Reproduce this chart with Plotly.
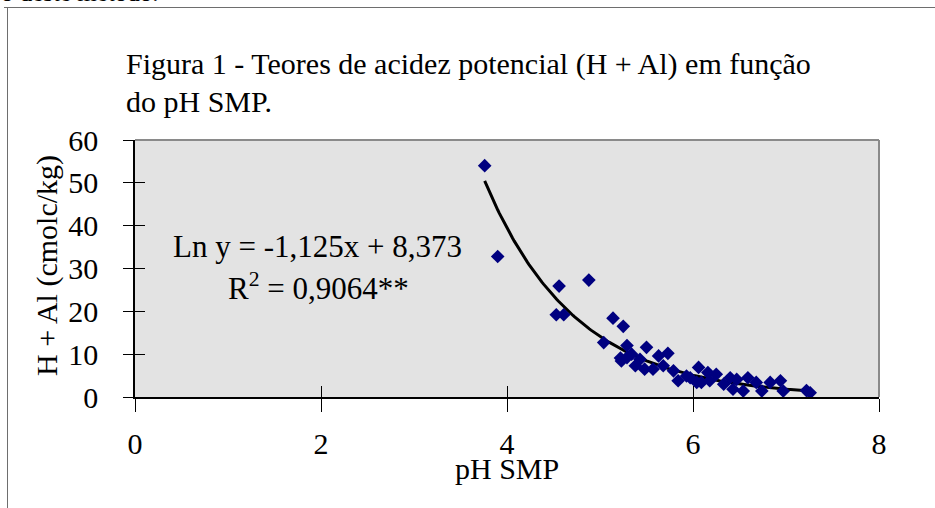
import numpy as np
import plotly.graph_objects as go

# ---- data ----
ph_smp = [3.76, 3.90, 4.53, 4.56, 4.61, 4.88, 5.04, 5.14, 5.25, 5.22, 5.23, 5.29, 5.29,
          5.34, 5.38, 5.43, 5.48, 5.50, 5.57, 5.63, 5.68, 5.73, 5.79, 5.84, 5.93,
          5.97, 6.04, 6.06, 6.09, 6.16, 6.18, 6.25, 6.33, 6.40, 6.43, 6.47, 6.54,
          6.59, 6.68, 6.74, 6.83, 6.94, 6.97, 7.22, 7.26]
h_al = [54.0, 32.8, 19.2, 25.9, 19.2, 27.3, 12.7, 18.4, 16.5, 9.1, 8.4, 12.0, 9.2,
        10.0, 7.3, 8.8, 6.5, 11.6, 6.5, 9.6, 7.3, 10.2, 6.1, 3.8, 4.9,
        4.5, 3.4, 6.9, 3.4, 5.7, 3.8, 5.3, 3.0, 4.5, 1.8, 4.1, 1.4,
        4.5, 3.4, 1.4, 3.4, 3.8, 1.4, 1.5, 1.0]

x_ticks = [0, 2, 4, 6, 8]
y_ticks = [0, 10, 20, 30, 40, 50, 60]

title_lines = ["Figura 1 - Teores de acidez potencial (H + Al) em função", "do pH SMP."]
eq_text = "Ln y = -1,125x + 8,373"
r2_text = "R<sup>2</sup> = 0,9064**"
x_title = "pH SMP"
y_title = "H + Al (cmolc/kg)"
top_cut_text = "o deste método."

# exponential trendline fitted to the data (ln y linear in x)
b, a = np.polyfit(ph_smp, np.log(h_al), 1)
xf = np.linspace(min(ph_smp), max(ph_smp), 200)
yf = np.exp(a + b * xf)

FONT = "Liberation Serif, Times New Roman, serif"

fig = go.Figure()
fig.add_trace(go.Scatter(x=xf, y=yf, mode="lines",
                         line=dict(color="black", width=3), hoverinfo="skip",
                         showlegend=False))
fig.add_trace(go.Scatter(x=ph_smp, y=h_al, mode="markers",
                         marker=dict(symbol="diamond", size=10.5, color="#000080"),
                         showlegend=False))
# invisible trace on overlay axes (for inside tick marks)
fig.add_trace(go.Scatter(x=[1], y=[30], xaxis="x2", yaxis="y2", mode="markers",
                         marker=dict(opacity=0, size=1), hoverinfo="skip", showlegend=False))

L, R, T, B = 135, 56, 140, 111
W, H = 935, 508
pw, ph = W - L - R, H - T - B

def px_x(p):
    return (p - L) / pw

def px_y(p):
    return (H - B - p) / ph

fig.update_layout(
    width=W, height=H,
    margin=dict(l=L, r=R, t=T, b=B, autoexpand=False),
    paper_bgcolor="white",
    plot_bgcolor="#e3e3e3",
    font=dict(family=FONT, color="black", size=30),
    xaxis=dict(range=[0, 8], tickvals=x_ticks, showgrid=False, zeroline=False,
               showline=True, linecolor="black", linewidth=1.5, automargin=False,
               ticks="outside", ticklen=13, tickcolor="black", tickwidth=1,
               tickfont=dict(size=30), ticklabelstandoff=6),
    yaxis=dict(range=[0, 60], tickvals=y_ticks, showgrid=False, zeroline=False,
               showline=True, linecolor="black", linewidth=1.5, automargin=False,
               ticks="outside", ticklen=10, tickcolor="black", tickwidth=1,
               tickfont=dict(size=30), ticklabelstandoff=19),
    xaxis2=dict(range=[0, 8], tickvals=x_ticks, overlaying="x", anchor="y2",
                showgrid=False, zeroline=False, showline=False, automargin=False,
                ticks="inside", ticklen=11, tickcolor="black", tickwidth=1,
                showticklabels=False),
    yaxis2=dict(range=[0, 60], tickvals=y_ticks, overlaying="y", anchor="x2",
                showgrid=False, zeroline=False, showline=False, automargin=False,
                ticks="inside", ticklen=10, tickcolor="black", tickwidth=1,
                showticklabels=False),
)

shapes = [
    # plot area top/right border
    dict(type="line", xref="paper", yref="paper", x0=0, x1=1, y0=1, y1=1,
         line=dict(color="#8a8a8a", width=2)),
    dict(type="line", xref="paper", yref="paper", x0=1, x1=1, y0=0, y1=1,
         line=dict(color="#8a8a8a", width=2)),
    # outer frame (top and left)
    dict(type="line", xref="paper", yref="paper", x0=px_x(4), x1=px_x(936),
         y0=px_y(7.5), y1=px_y(7.5), line=dict(color="#6e6e6e", width=1)),
    dict(type="line", xref="paper", yref="paper", x0=px_x(7.5), x1=px_x(7.5),
         y0=px_y(7.5), y1=px_y(510), line=dict(color="#6e6e6e", width=1)),
]
fig.update_layout(shapes=shapes)

ann = [
    dict(text=title_lines[0], x=px_x(124), y=px_y(64), xanchor="left", yanchor="middle",
         font=dict(size=30)),
    dict(text=title_lines[1], x=px_x(124), y=px_y(101), xanchor="left", yanchor="middle",
         font=dict(size=30)),
    dict(text=eq_text, x=px_x(317), y=px_y(246), xanchor="center", yanchor="middle",
         font=dict(size=31)),
    dict(text=r2_text, x=px_x(318), y=px_y(286), xanchor="center", yanchor="middle",
         font=dict(size=31)),
    dict(text=x_title, x=px_x(507), y=px_y(468), xanchor="center", yanchor="middle",
         font=dict(size=30)),
    dict(text=y_title, x=px_x(47), y=px_y(266), xanchor="center", yanchor="middle",
         textangle=-90, font=dict(size=30)),
    dict(text=top_cut_text, x=px_x(-1), y=px_y(8.5), xanchor="left", yanchor="bottom",
         font=dict(size=25)),
]
for a_ in ann:
    a_.update(xref="paper", yref="paper", showarrow=False)
fig.update_layout(annotations=ann)

# remove the default page margin so the figure sits at the window's top-left corner
fig.write_html("out.html", config={"displayModeBar": False},
               post_script="document.body.style.margin='0px';")
